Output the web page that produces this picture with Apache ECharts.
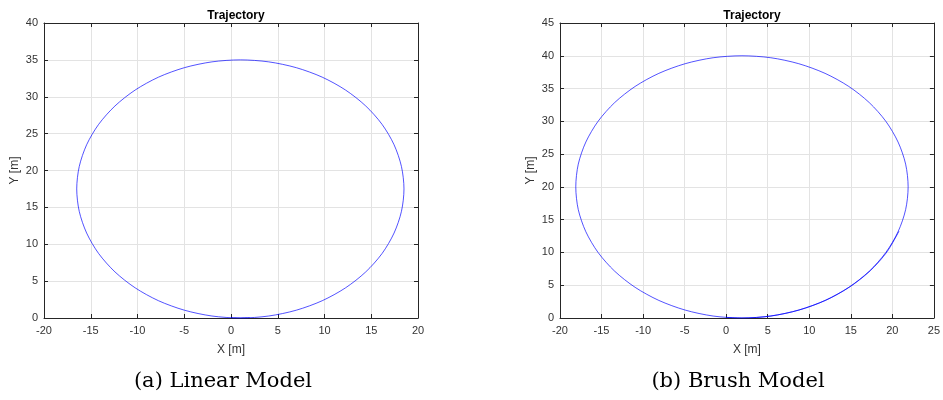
<!DOCTYPE html>
<html>
<head>
<meta charset="utf-8">
<script src="https://cdn.jsdelivr.net/npm/echarts@6/dist/echarts.min.js"></script>
<style>
  html, body { margin: 0; padding: 0; background: #fff; }
  #chart { width: 943px; height: 400px; }
</style>
</head>
<body>
<div id="chart"></div>
<script>
// Trajectory of the linear tyre model (x, y in metres)
const linearX = [0, 1, 4.04, 6.99, 9.75, 12.25, 14.41, 16.16, 17.44, 18.23, 18.5, 18.23, 17.44, 16.16, 14.41, 12.25, 9.75, 6.99, 4.04, 1,
  -2.04, -4.99, -7.75, -10.25, -12.41, -14.16, -15.44, -16.23, -16.5, -16.23, -15.44, -14.16, -12.41, -10.25, -7.75, -4.99, -2.04, 1, 2];
const linearY = [0.03, 0, 0.27, 1.06, 2.34, 4.09, 6.25, 8.75, 11.52, 14.46, 17.5, 20.54, 23.49, 26.25, 28.75, 30.91, 32.66, 33.94, 34.73, 35,
  34.73, 33.94, 32.66, 30.91, 28.75, 26.25, 23.49, 20.54, 17.5, 14.46, 11.52, 8.75, 6.25, 4.09, 2.34, 1.06, 0.27, 0, 0.03];

// Trajectory of the brush tyre model (x, y in metres); the run ends part-way into a second lap
const brushX = [0, 1.9, 5.37, 8.74, 11.9, 14.76, 17.22, 19.22, 20.69, 21.6, 21.9, 21.6, 20.69, 19.22, 17.22, 14.76, 11.9, 8.74, 5.37, 1.9,
  -1.57, -4.94, -8.1, -10.96, -13.42, -15.42, -16.89, -17.8, -18.1, -17.8, -16.89, -15.42, -13.42, -10.96, -8.1, -4.94, -1.57, 1.9,
  5.4, 8.8, 12.0, 14.86, 17.34, 19.35, 20.8];
const brushY = [0.09, 0, 0.3, 1.21, 2.68, 4.68, 7.14, 10, 13.16, 16.53, 20, 23.47, 26.84, 30, 32.86, 35.32, 37.32, 38.79, 39.7, 40,
  39.7, 38.79, 37.32, 35.32, 32.86, 30, 26.84, 23.47, 20, 16.53, 13.16, 10, 7.14, 4.68, 2.68, 1.21, 0.3, 0,
  0.31, 1.23, 2.71, 4.73, 7.2, 10.08, 13.25];

const titles = ['Trajectory', 'Trajectory'];
const captions = ['(a) Linear Model', '(b) Brush Model'];
const xRanges = [[-20, 20], [-20, 25]];
const yRanges = [[0, 40], [0, 45]];
const tickStep = 5;

const axisColor = '#262626';
const labelColor = '#333333';
const gridColor = '#e3e3e3';
const sansFont = '"Liberation Sans", Arial, sans-serif';

const grids = [
  { left: 44, top: 23, width: 374, height: 295 },
  { left: 560, top: 23, width: 374, height: 295 }
];
const captionCenters = [223, 738];

function pairs(xs, ys) {
  return xs.map((x, i) => [x, ys[i]]);
}

const tick = { show: true, inside: true, length: 4, lineStyle: { color: axisColor } };
const edge = { show: true, onZero: false, lineStyle: { color: axisColor, width: 1 } };
const nameStyle = { color: labelColor, fontFamily: sansFont, fontSize: 12 };

const xAxes = [];
const yAxes = [];
grids.forEach((g, i) => {
  // bottom / left axes carry the labels and grid lines
  xAxes.push({
    gridIndex: i, type: 'value', position: 'bottom',
    min: xRanges[i][0], max: xRanges[i][1], interval: tickStep,
    name: 'X [m]', nameLocation: 'middle', nameGap: 26, nameTextStyle: nameStyle,
    axisLine: edge, axisTick: tick,
    axisLabel: { color: labelColor, fontFamily: sansFont, fontSize: 11, margin: 7 },
    splitLine: { show: true, lineStyle: { color: gridColor, width: 1 } }
  });
  yAxes.push({
    gridIndex: i, type: 'value', position: 'left',
    min: yRanges[i][0], max: yRanges[i][1], interval: tickStep,
    name: 'Y [m]', nameLocation: 'middle', nameGap: 23, nameTextStyle: nameStyle,
    axisLine: edge, axisTick: tick,
    axisLabel: { color: labelColor, fontFamily: sansFont, fontSize: 11, margin: 6 },
    splitLine: { show: true, lineStyle: { color: gridColor, width: 1 } }
  });
  // top / right edges of the box with inward ticks
  xAxes.push({
    gridIndex: i, type: 'value', position: 'top',
    min: xRanges[i][0], max: xRanges[i][1], interval: tickStep,
    axisLine: edge, axisTick: tick, axisLabel: { show: false }, splitLine: { show: false }
  });
  yAxes.push({
    gridIndex: i, type: 'value', position: 'right',
    min: yRanges[i][0], max: yRanges[i][1], interval: tickStep,
    axisLine: edge, axisTick: tick, axisLabel: { show: false }, splitLine: { show: false }
  });
});

const lineStyle = { color: 'rgba(0,0,255,0.68)', width: 1 };

const option = {
  backgroundColor: '#ffffff',
  animation: false,
  title: grids.map((g, i) => ({
    text: titles[i],
    left: g.left + g.width / 2, top: 5, textAlign: 'center',
    textStyle: { color: '#000', fontFamily: sansFont, fontSize: 12, fontWeight: 'bold' }
  })),
  grid: grids,
  xAxis: xAxes,
  yAxis: yAxes,
  series: [
    {
      type: 'line', xAxisIndex: 0, yAxisIndex: 0,
      data: pairs(linearX, linearY), smooth: 0.3, showSymbol: false,
      lineStyle: lineStyle, itemStyle: { color: lineStyle.color }
    },
    {
      type: 'line', xAxisIndex: 2, yAxisIndex: 2,
      data: pairs(brushX, brushY), smooth: 0.3, showSymbol: false,
      lineStyle: lineStyle, itemStyle: { color: lineStyle.color }
    }
  ],
  graphic: captionCenters.map((cx, i) => ({
    type: 'text',
    x: cx, y: 382,
    style: {
      text: captions[i],
      align: 'center', verticalAlign: 'middle',
      font: '21px "DejaVu Serif", "Liberation Serif", serif',
      fill: '#000'
    }
  }))
};

const chart = echarts.init(document.getElementById('chart'), null, { renderer: 'canvas' });
chart.setOption(option);
</script>
</body>
</html>
